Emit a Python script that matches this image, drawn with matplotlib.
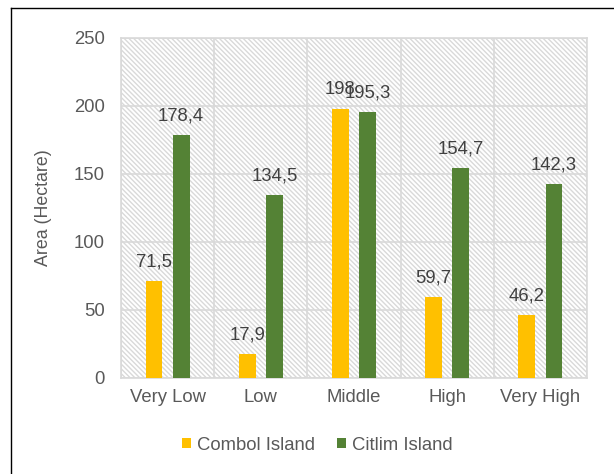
import matplotlib
matplotlib.use("Agg")
import matplotlib.pyplot as plt
import numpy as np
from matplotlib.patches import Rectangle
from matplotlib.lines import Line2D

# --- data ---
categories = ["Very Low", "Low", "Middle", "High", "Very High"]
combol = [71.5, 17.9, 198, 59.7, 46.2]
citlim = [178.4, 134.5, 195.3, 154.7, 142.3]
series_names = ["Combol Island", "Citlim Island"]
yticks = [0, 50, 100, 150, 200, 250]

plt.rcParams["font.family"] = ["Liberation Sans", "DejaVu Sans"]
plt.rcParams["hatch.color"] = "#d9d9d9"
plt.rcParams["hatch.linewidth"] = 1.0

fig = plt.figure(figsize=(6.14, 4.74), dpi=100)
ax = fig.add_axes([121 / 614, 1 - 378 / 474, 466 / 614, 340 / 474])

# hatched plot background
ax.add_patch(Rectangle((0, 0), 1, 1, transform=ax.transAxes, facecolor="white",
                       edgecolor="#d9d9d9", hatch="\\" * 7, lw=0, zorder=0))

x = np.arange(len(categories))
w = 0.18
off = 0.145
b1 = ax.bar(x - off, combol, w, color="#FFC000", zorder=3, label=series_names[0])
b2 = ax.bar(x + off, citlim, w, color="#548235", zorder=3, label=series_names[1])

def fmt(v):
    return f"{v:g}".replace(".", ",")

for bars, vals in ((b1, combol), (b2, citlim)):
    for r, v in zip(bars, vals):
        ax.annotate(fmt(v), (r.get_x() + r.get_width() / 2, v), xytext=(0, 10.5),
                    textcoords="offset points", ha="center", va="baseline",
                    fontsize=13.3, color="#404040", zorder=4)

ax.set_xlim(-0.5, len(categories) - 0.5)
ax.set_ylim(0, 250)
ax.set_yticks(yticks)
ax.set_xticks(x)
ax.set_xticklabels(categories)
ax.tick_params(axis="both", length=0, labelsize=13.3, labelcolor="#595959")
ax.tick_params(axis="y", pad=11.5)
ax.tick_params(axis="x", pad=8)

# grid: horizontal at ticks, vertical at category boundaries
for yv in yticks:
    ax.axhline(yv, color="#d9d9d9", lw=1.2, zorder=1)
for xv in np.arange(-0.5, len(categories), 1.0):
    ax.axvline(xv, color="#d9d9d9", lw=1.2, zorder=1)
for s in ax.spines.values():
    s.set_color("#d9d9d9")
    s.set_linewidth(1.2)

ax.set_ylabel("Area (Hectare)", fontsize=12.8, color="#595959", labelpad=16)

fig.legend(handles=[b1, b2], loc="center", bbox_to_anchor=(317 / 614, 1 - 445 / 474),
           ncol=2, frameon=False, fontsize=13.3, labelcolor="#595959",
           handlelength=0.5, handleheight=0.5, handletextpad=0.3,
           columnspacing=1.2)

# outer border (top and left visible)
fig.add_artist(Line2D([11 / 614, 1.0], [1 - 8 / 474, 1 - 8 / 474],
                      transform=fig.transFigure, color="black", lw=1.0))
fig.add_artist(Line2D([11 / 614, 11 / 614], [0.0, 1 - 8 / 474],
                      transform=fig.transFigure, color="black", lw=1.0))

fig.savefig("out.png", dpi=100)
